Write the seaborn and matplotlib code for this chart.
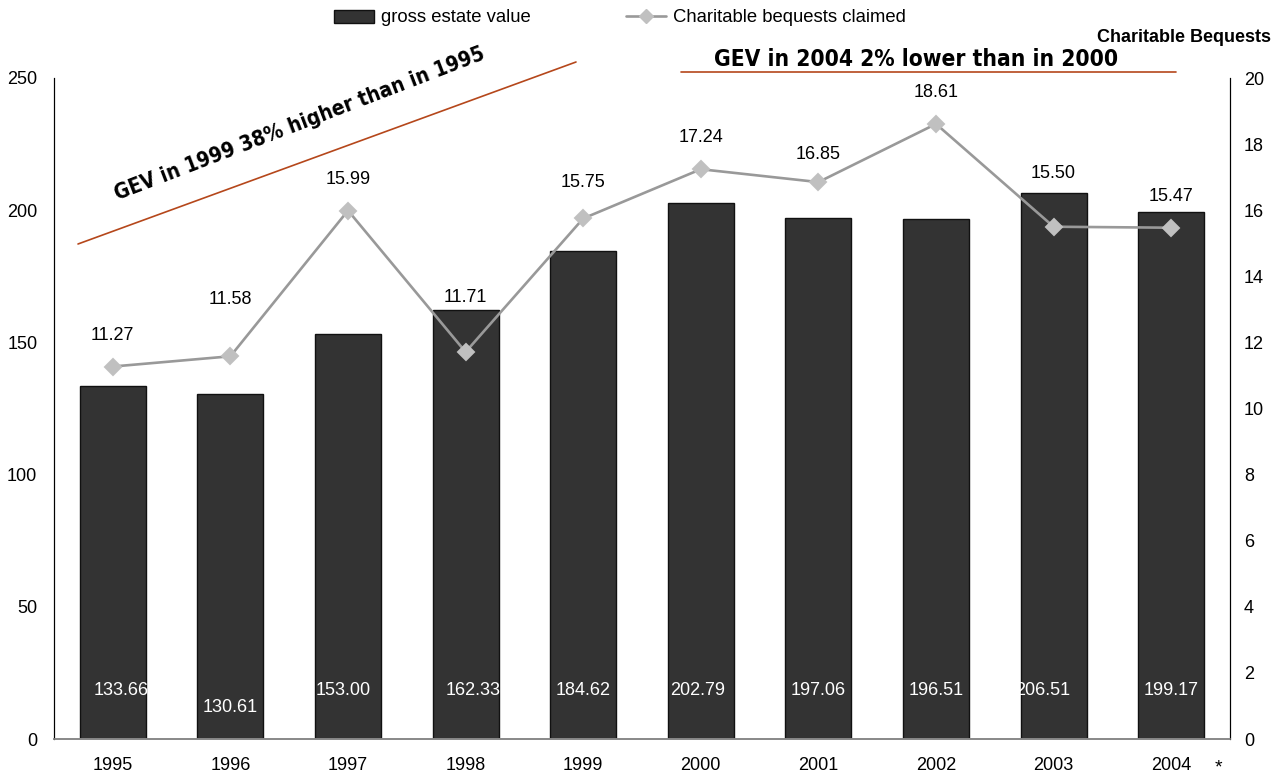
import numpy as np
import pandas as pd
import matplotlib
matplotlib.use("Agg")
import matplotlib.pyplot as plt
from matplotlib.patches import Patch
from matplotlib.lines import Line2D
from matplotlib import font_manager
import seaborn as sns

years = ["1995", "1996", "1997", "1998", "1999", "2000", "2001", "2002", "2003", "2004"]
gross_estate_value = [133.66, 130.61, 153.00, 162.33, 184.62, 202.79, 197.06, 196.51, 206.51, 199.17]
charitable_bequests = [11.27, 11.58, 15.99, 11.71, 15.75, 17.24, 16.85, 18.61, 15.50, 15.47]
left_ticks = [0, 50, 100, 150, 200, 250]
right_ticks = [0, 2, 4, 6, 8, 10, 12, 14, 16, 18, 20]

sns.set_style("white")
plt.rcParams["font.family"] = ["Liberation Sans", "DejaVu Sans"]
plt.rcParams["text.color"] = "#000000"
plt.rcParams["axes.labelcolor"] = "#000000"

# condensed heavy face for the callouts
names = {f.name for f in font_manager.fontManager.ttflist}
if "Liberation Sans Narrow" in names:
    callout_font = dict(family=["Liberation Sans Narrow", "DejaVu Sans"], fontweight="bold")
else:
    callout_font = dict(family=["DejaVu Sans"], fontweight="bold", fontstretch="condensed")

df = pd.DataFrame({"year": years, "gev": gross_estate_value, "cb": charitable_bequests})

fig = plt.figure(figsize=(12.88, 7.79), dpi=100)
ax = fig.add_axes([54 / 1288, 1 - 739 / 779, (1230 - 54) / 1288, (739 - 78) / 779])

sns.barplot(data=df, x="year", y="gev", ax=ax, color="#333333", width=0.56,
            edgecolor="#111111", linewidth=1, saturation=1)
ax.set_ylim(0, 250)
ax.set_yticks(left_ticks)
ax.set_xlabel("")
ax.set_ylabel("")
ax.tick_params(axis="both", length=0, labelsize=13, colors="#000000")
ax.tick_params(axis="x", pad=13)
ax.tick_params(axis="y", pad=12)

ax2 = ax.twinx()
sns.pointplot(data=df, x="year", y="cb", ax=ax2, color="#999999", markers="D",
              linewidth=1.9, markersize=8)
for ln in ax2.lines:
    ln.set_markerfacecolor("#C0C0C0")
    ln.set_markeredgecolor("#C0C0C0")
ax2.set_ylim(0, 20)
ax2.set_yticks(right_ticks)
ax2.set_ylabel("")
ax2.tick_params(axis="y", length=0, labelsize=13, pad=10, colors="#000000")
ax.set_xlim(-0.5, 9.5)
ax2.set_xlim(-0.5, 9.5)

for a in (ax, ax2):
    a.spines["top"].set_visible(False)
    a.spines["left"].set_color("#000000")
    a.spines["right"].set_color("#000000")
    a.spines["bottom"].set_color("#888888")
    a.spines["bottom"].set_linewidth(1.2)
    a.grid(False)

# value labels for the line (raised where they would sit on a bar)
label_rise = [22.5, 41, 22.5, 39, 26, 23, 20, 22.5, 38, 22.5]
for i, v in enumerate(charitable_bequests):
    ax2.annotate(f"{v:.2f}", (i, v), xytext=(0, label_rise[i]), textcoords="offset points",
                 ha="center", va="center", fontsize=13, color="#000000")

# value labels inside the bars
label_dx = [0.07, 0.0, -0.04, 0.06, 0.0, -0.03, 0.0, 0.0, -0.09, 0.0]
label_y = [18.5, 12.0, 18.5, 18.5, 18.5, 18.5, 18.5, 18.5, 18.5, 18.5]
for i, v in enumerate(gross_estate_value):
    ax.text(i + label_dx[i], label_y[i], f"{v:.2f}", ha="center", va="center",
            fontsize=13, color="#ffffff")

# right axis title
fig.text(1184 / 1288, 1 - 37 / 779, "Charitable Bequests", ha="center", va="center",
         fontsize=13, fontweight="bold")

# legend
handles = [Patch(facecolor="#333333", edgecolor="#111111", label="gross estate value"),
           Line2D([0], [0], color="#999999", lw=1.9, marker="D", markersize=7,
                  markerfacecolor="#C0C0C0", markeredgecolor="#C0C0C0",
                  label="Charitable bequests claimed")]
fig.legend(handles=handles, loc="center", bbox_to_anchor=(620 / 1288, 1 - 18 / 779),
           ncol=2, frameon=False, fontsize=13.3, handlelength=2.15, handleheight=0.7,
           columnspacing=5.2, handletextpad=0.38)

# callouts
accent = "#B5471B"
fig.add_artist(Line2D([78 / 1288, 576 / 1288], [1 - 244 / 779, 1 - 62 / 779],
                      color=accent, lw=1.2, transform=fig.transFigure))
fig.text(300 / 1288, 1 - 124 / 779, "GEV in 1999 38% higher than in 1995",
         ha="center", va="center", rotation=21, rotation_mode="anchor",
         fontsize=15, **callout_font)
fig.add_artist(Line2D([681 / 1288, 1176 / 1288], [1 - 72 / 779, 1 - 72 / 779],
                      color=accent, lw=1.2, transform=fig.transFigure))
fig.text(916 / 1288, 1 - 60 / 779, "GEV in 2004 2% lower than in 2000",
         ha="center", va="center", fontsize=16.3, **callout_font)

fig.text(1218 / 1288, 1 - 768 / 779, "*", ha="center", va="center", fontsize=14)

fig.savefig("out.png", dpi=100)
